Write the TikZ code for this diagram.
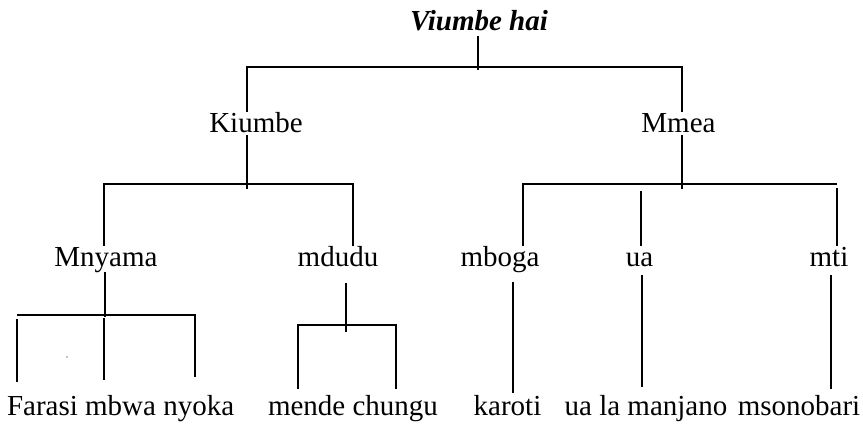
\documentclass[tikz,border=0pt]{standalone}
\usepackage{fontspec}
\setmainfont{Liberation Serif}
\tikzset{
  lbl/.style={anchor=base, inner sep=0pt, font=\fontsize{29}{34}\selectfont, text height=20pt, text depth=6pt},
  leaf/.style={lbl, text height=26pt},
  ln/.style={line width=1.3pt},
}
\begin{document}
\begin{tikzpicture}[x=1pt, y=-1pt]
        \useasboundingbox (0,0) rectangle (863,424);
        \node [lbl, font=\fontsize{29}{34}\selectfont\bfseries\itshape] (top) at (479,30) {Viumbe hai};
        \node [lbl] (kiumbe)  at (256,132)   {Kiumbe};               %
        \node [lbl] (mmea)    at (678.5,132) {Mmea};                 %
        \node [lbl] (mnyama)  at (106,266)   {Mnyama};               %
        \node [lbl] (mdudu)   at (338,266)   {mdudu};                %
        \node [lbl] (mboga)   at (500,266)   {mboga};                %
        \node [lbl] (ua)      at (639.5,266) {ua};                   %
        \node [lbl] (mti)     at (829,266)   {mti};                  %
        \node [leaf] (farasi) at (42.5,415)  {Farasi};               %
        \node [leaf] (mbwa)   at (120.6,415) {mbwa};                 %
        \node [leaf] (nyoka)  at (198.7,415) {nyoka};                %
        \node [leaf] (mende)  at (306.7,415) {mende};                %
        \node [leaf] (chungu) at (395.2,415) {chungu};               %
        \node [leaf] (karoti) at (507.5,415) {karoti};               %
        \node [leaf] (manjano) at (646,415)  {ua la manjano};        %
        \node [leaf] (msonobari) at (799,415) {msonobari};           %
        % level 1
        \coordinate (rootj) at (478,67);
        \coordinate (kj)    at (247,67);
        \coordinate (mj)    at (682,67);
        \draw [ln, shorten >=-3pt] (top.south -| rootj) -- (rootj);  %
        \draw [ln] (kiumbe.north -| kj) -- (kj) -- (mj) -- (mmea.north -| mj);
        % Kiumbe
        \coordinate (kbar) at (247,184);
        \coordinate (nyj)  at (104,184);
        \coordinate (mdj)  at (353,184);
        \draw [ln, shorten <=-3pt, shorten >=-5pt] (kiumbe.south -| kbar) -- (kbar);
        \draw [ln] (mnyama.north -| nyj) -- (nyj) -- (mdj) -- (mdudu.north -| mdj);
        % Mmea
        \coordinate (mbar) at (682,184);
        \coordinate (mbj)  at (523,184);
        \coordinate (uaj)  at (641,184);
        \coordinate (mtj)  at (837,184);
        \draw [ln, shorten <=-3pt, shorten >=-5pt] (mmea.south -| mbar) -- (mbar);
        \draw [ln] (mboga.north -| mbj) -- (mbj) -- (mtj);           %
        \draw [ln, shorten >=4pt] (mti.north -| mtj) -- (mtj);       %
        \draw [ln, shorten >=7pt] (ua.north -| uaj) -- (uaj);        %
        % Mnyama
        \coordinate (nybar) at (105,315);
        \coordinate (faj)   at (17,315);
        \coordinate (mbwj)  at (104,315);
        \coordinate (nyoj)  at (195,315);
        \draw [ln, shorten >=-2pt] (mnyama.south -| nybar) -- (nybar);
        \draw [ln, shorten >=12pt] (faj) -- (nyoj) -- (nyoka.north -| nyoj);
        \draw [ln, shorten <=4pt, shorten >=7pt] (faj) -- (farasi.north -| faj);
        \draw [ln, shorten <=3pt, shorten >=9pt] (mbwj) -- (mbwa.north -| mbwj);
        \fill (67,357) circle (0.6pt);                               %
        % mdudu
        \coordinate (mdbar) at (346,325);
        \coordinate (mej)   at (298,325);
        \coordinate (chj)   at (396,325);
        \draw [ln, shorten <=11pt, shorten >=-7pt] (mdudu.south -| mdbar) -- (mdbar);
        \draw [ln] (mende.north -| mej) -- (mej) -- (chj) -- (chungu.north -| chj);
        % mboga, ua, mti
        \coordinate (kaj) at (513,0);
        \coordinate (umj) at (642,0);
        \coordinate (msj) at (831,0);
        \draw [ln, shorten <=10pt, shorten >=-4pt] (mboga.south -| kaj) -- (karoti.north -| kaj);
        \draw [ln, shorten <=3pt, shorten >=2pt] (ua.south -| umj) -- (manjano.north -| umj);
        \draw [ln, shorten <=3pt] (mti.south -| msj) -- (msonobari.north -| msj);
\end{tikzpicture}
\end{document}
